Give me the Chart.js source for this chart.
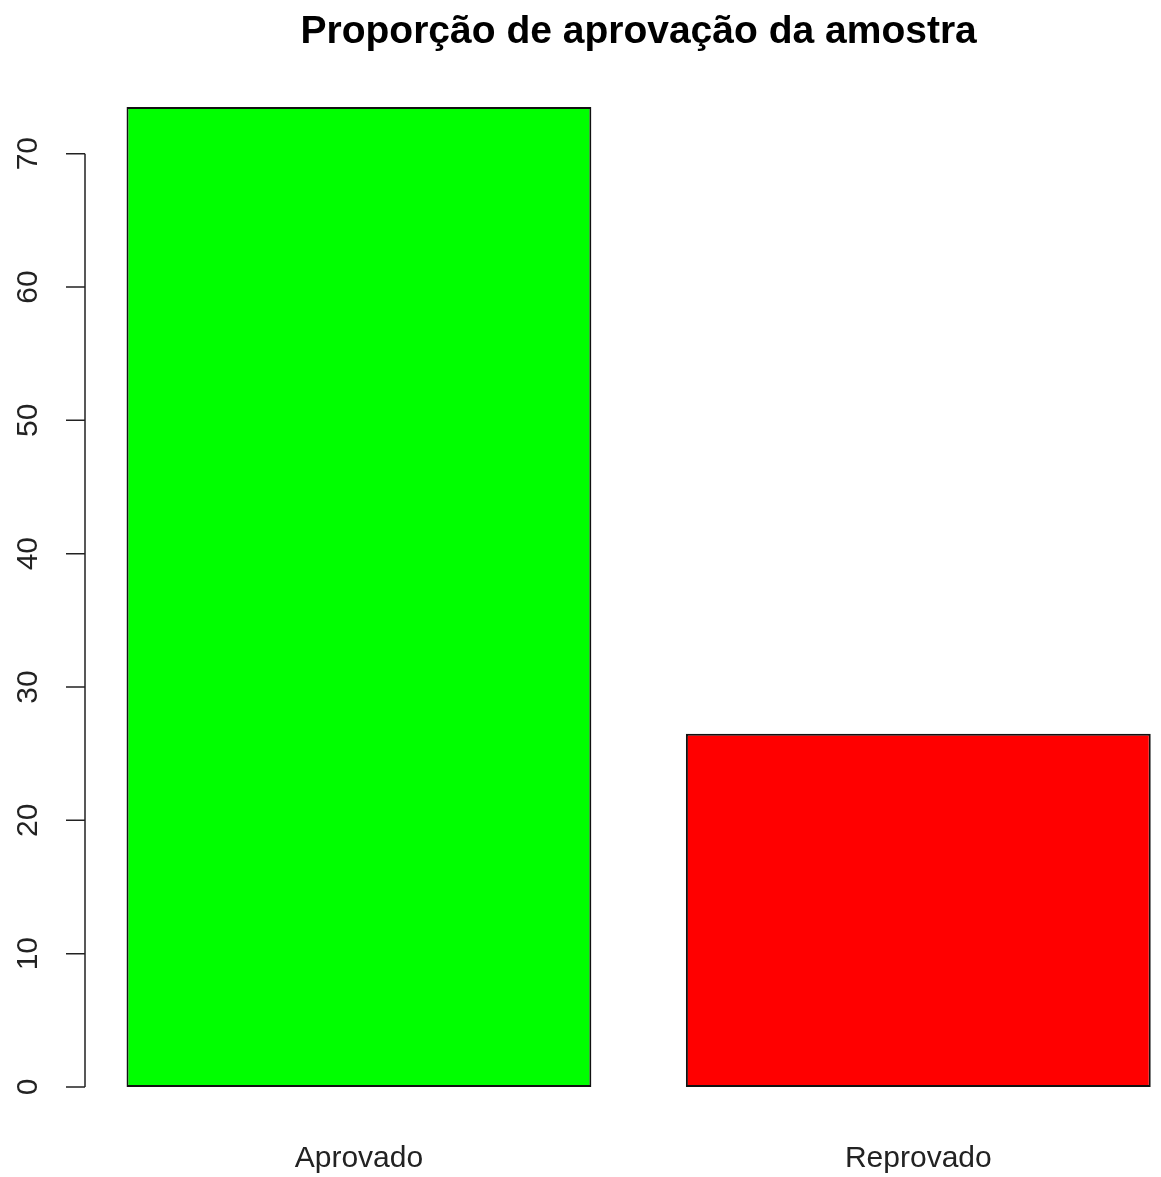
<!DOCTYPE html>
<html>
<head>
<meta charset="utf-8">
<script src="https://cdn.jsdelivr.net/npm/chart.js@4.4.1/dist/chart.umd.min.js"></script>
<style>
  html, body { margin: 0; padding: 0; background: #fff; overflow: hidden; }
  #holder { width: 1161px; height: 1177px; overflow: hidden; }
</style>
</head>
<body>
<div id="holder">
  <canvas id="myChart" width="1198" height="1177"></canvas>
</div>
<script>
var categories = ['Aprovado', 'Reprovado']
var proportions = [73.5, 26.5]
var barColors = ['#00ff00', '#ff0000']
var yTicks = [0, 10, 20, 30, 40, 50, 60, 70]
var titleStr = 'Proporção de aprovação da amostra'

var fontName = '"Liberation Sans", Arial, sans-serif'

// R style y axis: line only between first and last tick, labels turned 90 degrees
var rAxis = {
  id: 'rAxis',
  afterDraw: function(chart) {
    var ctx = chart.ctx
    var y = chart.scales.y
    var xLine = 85
    ctx.save()
    ctx.strokeStyle = '#222'
    ctx.lineWidth = 1.5
    ctx.beginPath()
    ctx.moveTo(xLine, y.getPixelForValue(yTicks[0]))
    ctx.lineTo(xLine, y.getPixelForValue(yTicks[yTicks.length - 1]))
    for (var i = 0; i < yTicks.length; i++) {
      var py = y.getPixelForValue(yTicks[i])
      ctx.moveTo(66, py)
      ctx.lineTo(xLine, py)
    }
    ctx.stroke()
    ctx.fillStyle = '#222'
    ctx.font = '30px ' + fontName
    ctx.textAlign = 'center'
    ctx.textBaseline = 'middle'
    for (var j = 0; j < yTicks.length; j++) {
      ctx.save()
      ctx.translate(29, y.getPixelForValue(yTicks[j]))
      ctx.rotate(-Math.PI / 2)
      ctx.fillText(String(yTicks[j]), 0, 0)
      ctx.restore()
    }
    ctx.restore()
  }
}

var myChart = new Chart(document.getElementById('myChart').getContext('2d'), {
  type: 'bar',
  data: {
    labels: categories,
    datasets: [{
      data: proportions,
      backgroundColor: barColors,
      borderColor: '#111',
      borderWidth: 2,
      borderSkipped: false,
      categoryPercentage: 1,
      barPercentage: 0.831
    }]
  },
  options: {
    responsive: false,
    maintainAspectRatio: false,
    animation: false,
    layout: { padding: { top: 0, bottom: 0, left: 0, right: 0 } },
    plugins: {
      legend: { display: false },
      tooltip: { enabled: false },
      title: {
        display: true,
        text: titleStr,
        fullSize: false,
        color: '#000',
        font: { family: fontName, size: 39, weight: 'bold' },
        padding: { top: 9, bottom: 12 }
      }
    },
    scales: {
      x: {
        grid: { display: false },
        border: { display: false },
        ticks: {
          color: '#222',
          padding: 46,
          font: { family: fontName, size: 30 }
        },
        afterFit: function(scale) { scale.height = 90 }
      },
      y: {
        min: 0,
        max: 76.44,
        grid: { display: false },
        border: { display: false },
        ticks: { display: false, stepSize: 10, includeBounds: false },
        afterFit: function(scale) { scale.width = 79.25 }
      }
    }
  },
  plugins: [rAxis]
})
</script>
</body>
</html>
